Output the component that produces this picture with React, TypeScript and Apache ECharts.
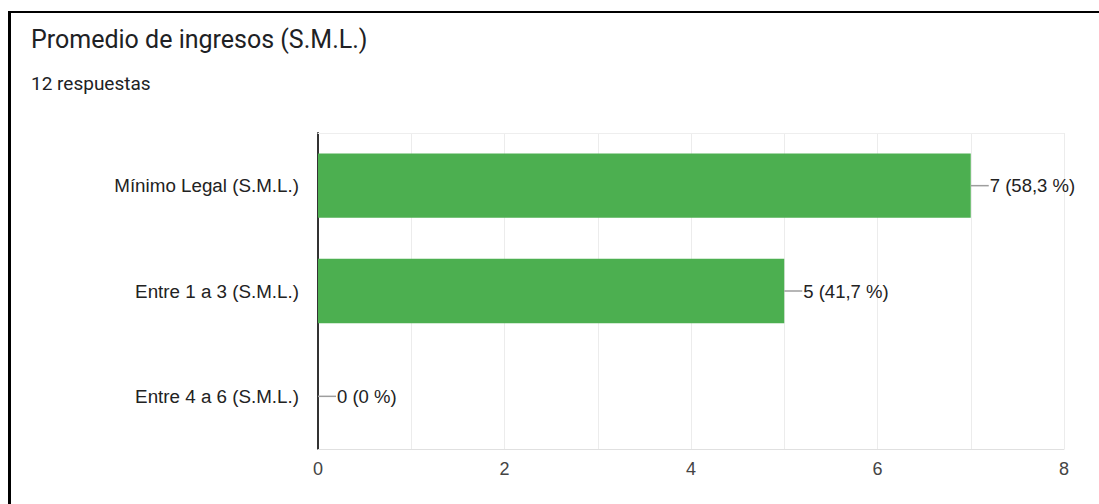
import React, { useEffect, useRef } from "react";
import * as echarts from "echarts";

const categories = ["Mínimo Legal (S.M.L.)", "Entre 1 a 3 (S.M.L.)", "Entre 4 a 6 (S.M.L.)"];
const counts = [7, 5, 0];
const percentLabels = ["58,3 %", "41,7 %", "0 %"];
const titleText = "Promedio de ingresos (S.M.L.)";
const subtitleText = "12 respuestas";

export default function App() {
  const ref = useRef<HTMLDivElement>(null);
  useEffect(() => {
    if (!ref.current) return;
    const chart = echarts.init(ref.current, null, { renderer: "svg" });
    const cats = [...categories].reverse();
    const vals = [...counts].reverse();
    const pcts = [...percentLabels].reverse();
    const font = "'Liberation Sans', Arial, sans-serif";
    chart.setOption({
      animation: false,
      backgroundColor: "transparent",
      title: [
        {
          text: titleText,
          left: 31,
          top: 27,
          padding: 0,
          textStyle: { fontFamily: "Roboto", fontSize: 25, fontWeight: "normal", color: "#202124" },
        },
        {
          text: subtitleText,
          left: 31,
          top: 74,
          padding: 0,
          textStyle: { fontFamily: "Roboto", fontSize: 19, fontWeight: "normal", color: "#202124" },
        },
      ],
      grid: { left: 318, right: 35, top: 133, bottom: 55, containLabel: false },
      xAxis: [
        {
          type: "value",
          min: 0,
          max: 8,
          interval: 1,
          axisLine: { show: true, lineStyle: { color: "#e0e0e0", width: 1 } },
          axisTick: { show: false },
          splitLine: { show: true, lineStyle: { color: "#ececec", width: 1 } },
          axisLabel: {
            formatter: (v: number) => (v % 2 === 0 ? String(v) : ""),
            color: "#444",
            fontFamily: font,
            fontSize: 18,
            margin: 11,
          },
        },
        {
          type: "value",
          position: "top",
          min: 0,
          max: 8,
          interval: 1,
          axisLine: { show: true, lineStyle: { color: "#eeeeee", width: 1 } },
          axisTick: { show: false },
          axisLabel: { show: false },
          splitLine: { show: false },
        },
      ],
      yAxis: {
        type: "category",
        data: cats,
        axisLine: { show: true, onZero: false, lineStyle: { color: "#333", width: 2 } },
        axisTick: { show: false },
        splitLine: { show: false },
        axisLabel: {
          color: "#222",
          fontFamily: font,
          fontSize: 18.8,
          margin: 19,
        },
      },
      series: [
        {
          type: "bar",
          data: vals,
          barWidth: "61%",
          itemStyle: { color: "#4caf50" },
          label: {
            show: true,
            position: "right",
            distance: 0,
            formatter: (p: any) => `{l|}{t|${vals[p.dataIndex]} (${pcts[p.dataIndex]})}`,
            rich: {
              l: { width: 18, height: 1.5, backgroundColor: "#9e9e9e", verticalAlign: "middle" },
              t: {
                color: "#222",
                fontFamily: font,
                fontSize: 18.5,
                padding: [0, 0, 0, 1],
                verticalAlign: "middle",
              },
            },
          },
        },
      ],
    });
    return () => chart.dispose();
  }, []);
  return (
    <div style={{ position: "fixed", left: 0, top: 0, width: 1099, height: 504, background: "#fff", overflow: "hidden" }}>
      <div
        style={{
          position: "absolute",
          left: 8,
          top: 11,
          width: 1200,
          height: 600,
          borderTop: "2px solid #000",
          borderLeft: "3px solid #000",
        }}
      />
      <div ref={ref} style={{ position: "absolute", left: 0, top: 0, width: 1099, height: 504 }} />
    </div>
  );
}
